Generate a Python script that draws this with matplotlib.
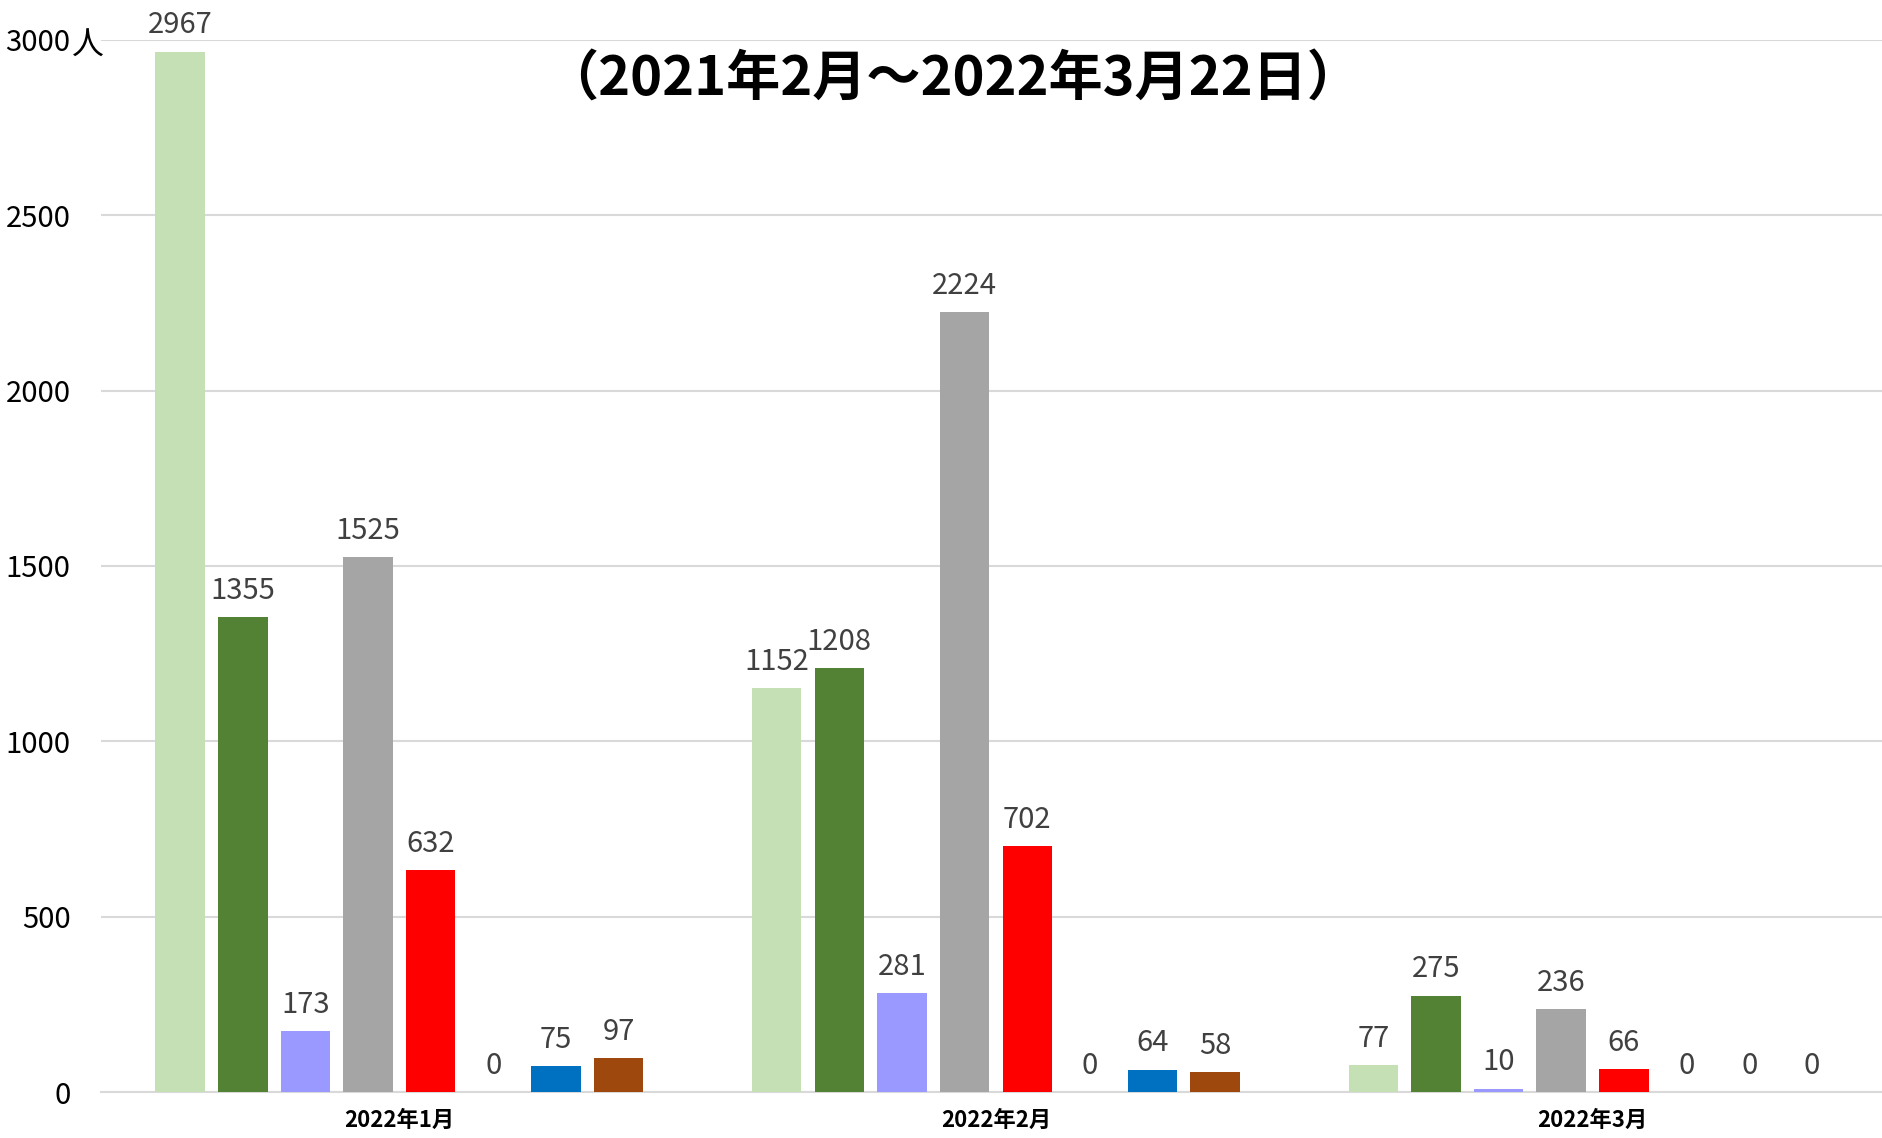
import matplotlib.pyplot as plt
import numpy as np

plt.rcParams['font.family'] = ['Noto Sans CJK JP', 'DejaVu Sans']

months = ['2022年1月', '2022年2月', '2022年3月']
s1 = [2967, 1152, 77]
s2 = [1355, 1208, 275]
s3 = [173, 281, 10]
s4 = [1525, 2224, 236]
s5 = [632, 702, 66]
s6 = [0, 0, 0]
s7 = [75, 64, 0]
s8 = [97, 58, 0]
series = [s1, s2, s3, s4, s5, s6, s7, s8]
colors = ['#C5E0B4', '#548235', '#9999FF', '#A5A5A5', '#FF0000', '#FFC000', '#0070C0', '#9E480E']
yticks = [0, 500, 1000, 1500, 2000, 2500, 3000]

fig = plt.figure(figsize=(18.82, 11.38), dpi=100)
ax = fig.add_axes([0.0537, 0.0404, 0.951, 0.9245])

x = np.arange(len(months))
step = 0.105
width = 0.083
for i, (vals, c) in enumerate(zip(series, colors)):
    bars = ax.bar(x + (i - 3.5) * step, vals, width, color=c, zorder=3)
    ax.bar_label(bars, padding=8, fontsize=21, color='#404040')

ax.set_xlim(-0.5, 2.5)
ax.set_ylim(0, 3000)
ax.set_yticks(yticks)
ax.set_yticklabels([str(v) for v in yticks], fontsize=21)
ax.tick_params(axis='y', length=0, pad=22)
ax.set_xticks(x)
ax.set_xticklabels(months, fontsize=16, fontweight='bold')
ax.tick_params(axis='x', length=0, pad=12)
ax.grid(axis='y', color='#D9D9D9', linewidth=1.5, zorder=0)
for s in ['top', 'right', 'left']:
    ax.spines[s].set_visible(False)
ax.spines['bottom'].set_color('#D9D9D9')
ax.spines['bottom'].set_linewidth(1.5)

ax.annotate('人', xy=(0, 3000), xycoords=('axes fraction', 'data'),
            xytext=(-21, -4), textcoords='offset points',
            ha='left', va='center', fontsize=23)

ax.text(0.476, 0.962, '（2021年2月～2022年3月22日）', transform=ax.transAxes,
        ha='center', va='center', fontsize=39, fontweight='bold')

plt.savefig('out.png', dpi=100)
